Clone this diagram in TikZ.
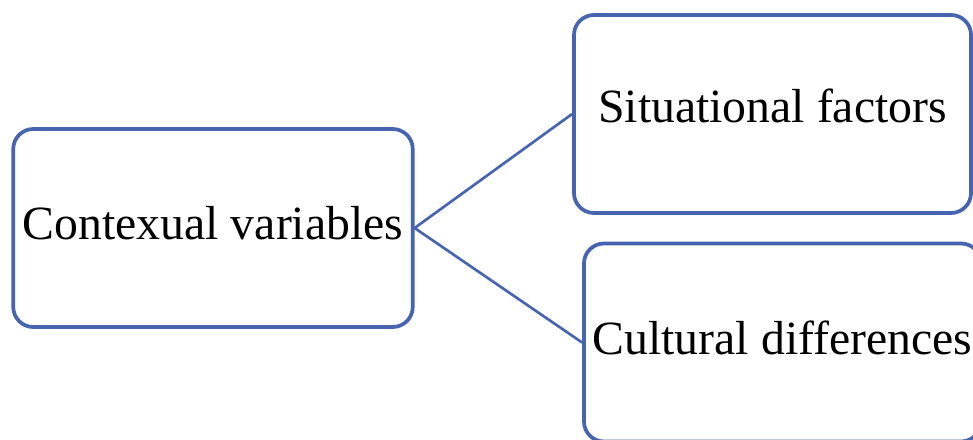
\documentclass[tikz,border=0pt]{standalone}
\usepackage{fontspec}
\setmainfont{Liberation Serif}
\definecolor{boxblue}{RGB}{70,100,176}
\begin{document}
\begin{tikzpicture}[x=0.75pt,y=-0.75pt,
  box/.style={draw=boxblue, line width=2.8pt, rounded corners=15pt, fill=white,
    minimum width=#1, minimum height=148.5pt, inner sep=0pt, text depth=0pt,
    font=\fontsize{35.8}{40}\selectfont},
  link/.style={draw=boxblue, line width=2pt}]
  \useasboundingbox (0,0) rectangle (973,439);
  \clip (0,0) rectangle (973,439);
  \node[box=299.6pt, text height=17.7pt] (ctx) at (213,228) {Contexual variables};
  \node[box=297.8pt, text height=13.2pt] (sit) at (772.5,114) {Situational factors};
  \node[box=297.8pt, text height=18.4pt] (cul) at (782.5,342.5) {Cultural differences};
  \draw[link] (ctx.east) -- (sit.west);
  \draw[link] (ctx.east) -- (cul.west);
\end{tikzpicture}
\end{document}
